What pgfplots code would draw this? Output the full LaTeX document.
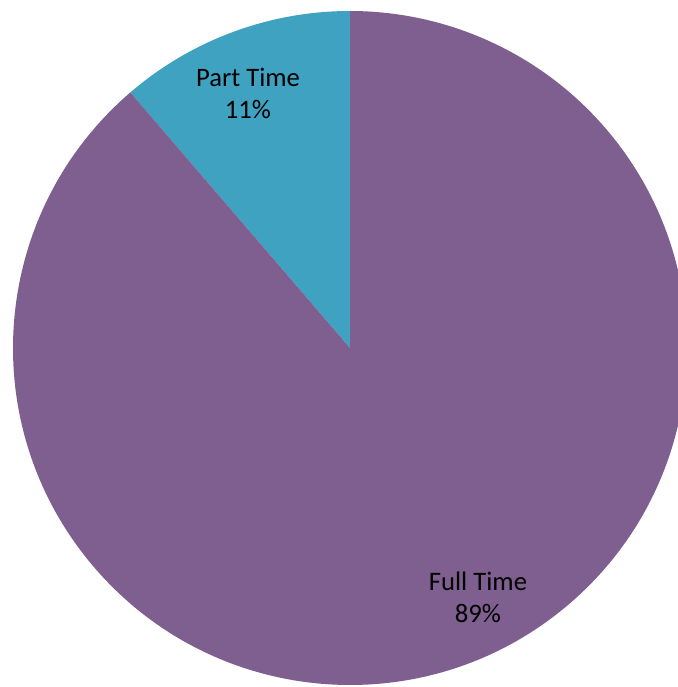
\documentclass[border=0pt]{standalone}
\usepackage{pgfplots}
\pgfplotsset{compat=1.18}
\usepackage{pgfplotstable}
\usepackage{fontspec}
\setmainfont{Carlito}

\definecolor{fulltime}{HTML}{7E5F8F}
\definecolor{parttime}{HTML}{40A2C1}

% share of each group, in percent
\pgfplotstableread{
label share
Part 11.3
Full 88.7
}\shares

\begin{document}
\begin{tikzpicture}
\pgfplotstablegetelem{0}{share}\of\shares \let\partshare\pgfplotsretval
\pgfplotstablegetelem{1}{share}\of\shares \let\fullshare\pgfplotsretval
\pgfmathsetmacro\partend{90+3.6*\partshare}
\pgfmathsetmacro\fullend{\partend+3.6*\fullshare}
\pgfmathsetmacro\bx{337*cos(\partend)}
\pgfmathsetmacro\by{337*sin(\partend)}
\begin{axis}[
    width=508.5pt, height=515.25pt, scale only axis,
    xmin=-350, xmax=328, ymin=-339, ymax=348,
    hide axis, clip=true
]
    \path (rel axis cs:0,0) rectangle (rel axis cs:1,1);
    \fill[parttime] (axis cs:0,0) -- (axis cs:0,337)
        arc[start angle=90, end angle=\partend, radius=337] -- cycle;
    \fill[fulltime] (axis cs:0,0) -- (axis cs:\bx,\by)
        arc[start angle=\partend, end angle=\fullend, radius=337] -- cycle;
    \node[align=center, font=\fontsize{20}{24}\selectfont]
        at (axis cs:-102,255) {Part Time\\11\%};
    \node[align=center, font=\fontsize{20}{24}\selectfont]
        at (axis cs:128,-249) {Full Time\\89\%};
\end{axis}
\end{tikzpicture}
\end{document}
